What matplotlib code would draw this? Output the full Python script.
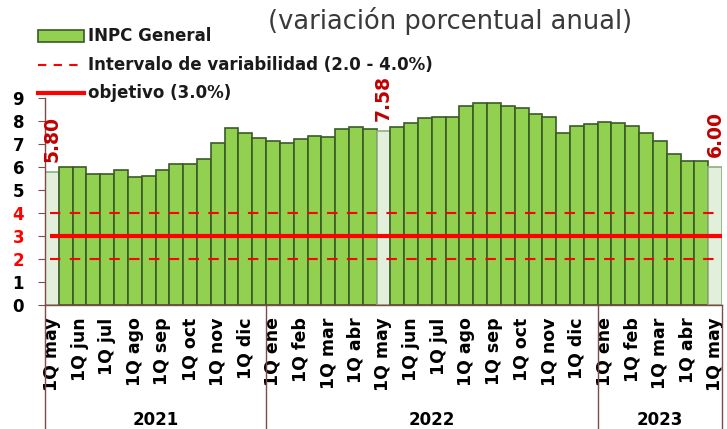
import matplotlib
matplotlib.use('Agg')
import matplotlib.pyplot as plt
import matplotlib.transforms as mtransforms
from matplotlib.patches import Rectangle
from matplotlib.lines import Line2D

plt.rcParams['font.family'] = ['DejaVu Sans']

# ---- data ----
years = ['2021', '2022', '2023']
periods_2021 = ['1Q may', '2Q may', '1Q jun', '2Q jun', '1Q jul', '2Q jul', '1Q ago', '2Q ago',
                '1Q sep', '2Q sep', '1Q oct', '2Q oct', '1Q nov', '2Q nov', '1Q dic', '2Q dic']
periods_2022 = ['1Q ene', '2Q ene', '1Q feb', '2Q feb', '1Q mar', '2Q mar', '1Q abr', '2Q abr',
                '1Q may', '2Q may', '1Q jun', '2Q jun', '1Q jul', '2Q jul', '1Q ago', '2Q ago',
                '1Q sep', '2Q sep', '1Q oct', '2Q oct', '1Q nov', '2Q nov', '1Q dic', '2Q dic']
periods_2023 = ['1Q ene', '2Q ene', '1Q feb', '2Q feb', '1Q mar', '2Q mar', '1Q abr', '2Q abr',
                '1Q may']
values_2021 = [5.80, 6.00, 6.00, 5.71, 5.71, 5.86, 5.55, 5.60,
               5.86, 6.11, 6.11, 6.33, 7.03, 7.71, 7.46, 7.26]
values_2022 = [7.14, 7.06, 7.23, 7.35, 7.32, 7.67, 7.76, 7.67,
               7.58, 7.76, 7.93, 8.13, 8.18, 8.18, 8.66, 8.79,
               8.79, 8.66, 8.56, 8.31, 8.18, 7.49, 7.78, 7.89]
values_2023 = [7.96, 7.93, 7.78, 7.49, 7.14, 6.57, 6.24, 6.28, 6.00]
highlight_period = '1Q may'
target = 3.0
band_low, band_high = 2.0, 4.0
yticks = [0, 1, 2, 3, 4, 5, 6, 7, 8, 9]

title = '(variación porcentual anual)'
legend_labels = ['INPC General', 'Intervalo de variabilidad (2.0 - 4.0%)', 'objetivo (3.0%)']

# ---- build ----
groups = [periods_2021, periods_2022, periods_2023]
vals_groups = [values_2021, values_2022, values_2023]
periods = [p for g in groups for p in g]
values = [v for g in vals_groups for v in g]
n = len(values)
xs = list(range(n))

green = '#92d050'
green_edge = '#3b5a27'
light = '#e2efda'
light_edge = '#8fae80'
red = '#ff0000'
dark_red = '#c00000'
spine_col = '#7f4a4a'

W, H = 727, 429
fig = plt.figure(figsize=(W / 100, H / 100), dpi=100)
ax = fig.add_axes([45 / W, 1 - 305 / H, 677 / W, 207 / H])

hl = [p == highlight_period for p in periods]
colors = [light if h else green for h in hl]
edges = [light_edge if h else green_edge for h in hl]
ax.bar(xs, values, width=1.0, color=colors, edgecolor=edges, linewidth=1.2, zorder=2)

for i, (v, h) in enumerate(zip(values, hl)):
    if h:
        ax.annotate(f'{v:.2f}', xy=(i, v), xytext=(0, 7), textcoords='offset points',
                    rotation=90, ha='center', va='bottom', color=dark_red,
                    fontsize=13.5, fontweight='bold', annotation_clip=False)

# reference lines
ax.plot([-0.15, n - 0.5], [target, target], color=red, lw=3, zorder=4, solid_capstyle='butt')
for b in (band_low, band_high):
    ax.plot([-0.15, n - 0.5], [b, b], color=red, lw=1.5, ls=(0, (5, 4.5)), zorder=4)

ax.set_xlim(-0.5, n - 0.5)
ax.set_ylim(0, 9)
ax.set_yticks(yticks)
ax.set_yticklabels([str(t) for t in yticks], fontsize=12, fontweight='bold')
for t, lab in zip(yticks, ax.get_yticklabels()):
    if t in (2, 3, 4):
        lab.set_color(red)
ax.tick_params(axis='y', length=5, color=spine_col, pad=10)

tick_pos = [i for i, p in enumerate(periods) if p.startswith('1Q')]
ax.set_xticks(tick_pos)
ax.set_xticklabels([periods[i] for i in tick_pos], rotation=90, fontsize=12.5,
                   fontweight='bold', va='top', ha='center')
ax.tick_params(axis='x', length=0, pad=9)

for s in ('top', 'right'):
    ax.spines[s].set_visible(False)
for s in ('left', 'bottom'):
    ax.spines[s].set_color(spine_col)
    ax.spines[s].set_linewidth(1)

trans = mtransforms.blended_transform_factory(ax.transData, ax.transAxes)
start = 0
bounds = [-0.5]
for g in groups:
    start += len(g)
    bounds.append(start - 0.5)
for b in bounds:
    ax.plot([b, b], [0, -0.6], transform=trans, clip_on=False, color=spine_col, lw=1)
for yname, a, b in zip(years, bounds[:-1], bounds[1:]):
    ax.text((a + b) / 2, -0.555, yname, transform=trans, ha='center', va='center',
            fontsize=12, fontweight='bold')

# title
fig.text(450 / W, 1 - 21 / H, title, ha='center', va='center', fontsize=18.5, color='#3a3a3a')

# legend (manual)
def fx(px):
    return px / W

def fy(py):
    return 1 - py / H

fig.patches.append(Rectangle((fx(38), fy(42)), fx(84) - fx(38), (42 - 30) / H,
                             transform=fig.transFigure, facecolor=green, edgecolor=green_edge,
                             lw=1.2))
fig.lines.append(Line2D([fx(38), fx(84)], [fy(65), fy(65)], transform=fig.transFigure,
                        color=red, lw=1.5, ls=(0, (4, 3.5))))
fig.lines.append(Line2D([fx(38), fx(84)], [fy(93), fy(93)], transform=fig.transFigure,
                        color=red, lw=3))
for lab, py in zip(legend_labels, (36, 65, 93)):
    fig.text(fx(88), fy(py), lab, ha='left', va='center', fontsize=12, fontweight='bold',
             color='#1a1a1a')

fig.savefig('out.png', dpi=100)
